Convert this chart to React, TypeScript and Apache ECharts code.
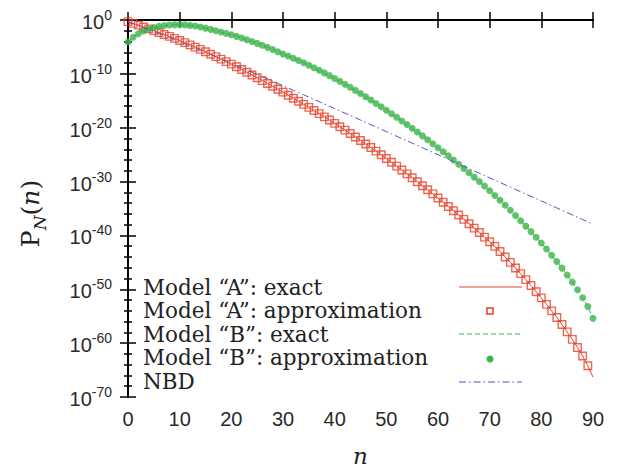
import React, { useEffect, useRef } from "react";
import * as echarts from "echarts";

// n = 0 .. 90
const nValues: number[] = Array.from({ length: 91 }, (_, i) => i);

// log10 P_N(n)
const modelA_log10: number[] = [
  -0.3, -0.63, -0.96, -1.3, -1.64, -1.98, -2.33, -2.68, -3.04, -3.41,
  -3.8, -4.2, -4.61, -5.03, -5.46, -5.9, -6.35, -6.8, -7.26, -7.73,
  -8.2, -8.69, -9.19, -9.7, -10.21, -10.73, -11.25, -11.78, -12.31, -12.85,
  -13.4, -13.96, -14.52, -15.09, -15.66, -16.23, -16.81, -17.39, -17.98, -18.58,
  -19.2, -19.82, -20.45, -21.08, -21.72, -22.37, -23.02, -23.68, -24.35, -25.03,
  -25.72, -26.42, -27.13, -27.85, -28.57, -29.3, -30.04, -30.78, -31.53, -32.29,
  -33.06, -33.84, -34.62, -35.41, -36.21, -37.01, -37.82, -38.64, -39.47, -40.31,
  -41.16, -42.04, -42.98, -44.0, -45.0, -46.05, -47.1, -48.2, -49.3, -50.45,
  -51.6, -52.8, -54.0, -55.25, -56.55, -57.9, -59.3, -60.8, -62.4, -64.2,
  -66.3,
];

// approximation points of model A are shown for n = 0 .. 89
const modelA_approx_count = 90;

const modelB_log10: number[] = [
  -4.1, -3.2, -2.55, -2.05, -1.68, -1.4, -1.18, -1.03, -0.93, -0.88,
  -0.87, -0.91, -1.0, -1.13, -1.3, -1.51, -1.74, -1.98, -2.23, -2.49,
  -2.75, -3.04, -3.34, -3.66, -3.99, -4.34, -4.7, -5.08, -5.47, -5.88,
  -6.3, -6.69, -7.09, -7.51, -7.94, -8.39, -8.85, -9.33, -9.82, -10.33,
  -10.85, -11.39, -11.94, -12.5, -13.07, -13.66, -14.26, -14.87, -15.49, -16.12,
  -16.76, -17.41, -18.07, -18.74, -19.42, -20.11, -20.81, -21.52, -22.24, -22.97,
  -23.71, -24.46, -25.22, -25.99, -26.77, -27.56, -28.36, -29.17, -29.99, -30.83,
  -31.69, -32.57, -33.47, -34.39, -35.33, -36.29, -37.27, -38.27, -39.29, -40.34,
  -41.42, -42.53, -43.67, -44.85, -46.07, -47.34, -48.67, -50.07, -51.57, -53.2,
  -55.4,
];

const nbd_log10: number[] = [
  -0.4, -0.73, -1.08, -1.43, -1.78, -2.14, -2.51, -2.88, -3.26, -3.64,
  -4.02, -4.41, -4.8, -5.2, -5.59, -5.99, -6.4, -6.8, -7.21, -7.62,
  -8.03, -8.44, -8.85, -9.27, -9.68, -10.1, -10.52, -10.94, -11.36, -11.78,
  -12.2, -12.62, -13.04, -13.47, -13.89, -14.32, -14.74, -15.17, -15.59, -16.02,
  -16.44, -16.87, -17.3, -17.72, -18.15, -18.58, -19.01, -19.43, -19.86, -20.29,
  -20.72, -21.15, -21.58, -22.01, -22.43, -22.86, -23.29, -23.72, -24.15, -24.58,
  -25.01, -25.44, -25.87, -26.3, -26.73, -27.16, -27.59, -28.02, -28.45, -28.88,
  -29.31, -29.74, -30.17, -30.6, -31.03, -31.46, -31.89, -32.32, -32.75, -33.18,
  -33.61, -34.04, -34.47, -34.9, -35.33, -35.76, -36.19, -36.62, -37.05, -37.48,
  -37.91,
];

const seriesNames: string[] = [
  "Model “A”: exact",
  "Model “A”: approximation",
  "Model “B”: exact",
  "Model “B”: approximation",
  "NBD",
];

const RED = "#e8412a";
const GREEN = "#3cb44b";
const BLUE = "#5a4fbd";
const SERIF = '"DejaVu Serif", serif';
const SANS = '"Liberation Sans", Arial, sans-serif';

const pairs = (vals: number[], count: number = vals.length) =>
  nValues.slice(0, count).map((n, i) => [n, vals[i]]);

export default function App() {
  const ref = useRef<HTMLDivElement>(null);
  useEffect(() => {
    document.body.style.margin = "0";
    const chart = echarts.init(ref.current!, undefined, { renderer: "svg" });

    const rowY = [287, 310.5, 334, 357.5, 381];
    const textX = 143;
    const sx1 = 459;
    const sx2 = 522;
    const sxc = 490;

    const legendChildren: any[] = [];
    seriesNames.forEach((name, i) => {
      legendChildren.push({
        type: "text",
        x: textX,
        y: rowY[i],
        style: {
          text: name,
          fontFamily: SERIF,
          fontSize: 21.5,
          fill: "#222",
          verticalAlign: "middle",
        },
      });
    });
    legendChildren.push(
      { type: "line", shape: { x1: sx1, y1: rowY[0], x2: sx2, y2: rowY[0] }, style: { stroke: RED, lineWidth: 1 } },
      { type: "rect", shape: { x: sxc - 3, y: rowY[1] - 2.5, width: 6, height: 6 }, style: { fill: "transparent", stroke: RED, lineWidth: 1.5 } },
      { type: "line", shape: { x1: sx1, y1: rowY[2], x2: sx2, y2: rowY[2] }, style: { stroke: GREEN, lineWidth: 1, lineDash: [5, 3] } },
      { type: "circle", shape: { cx: sxc, cy: rowY[3] + 1.5, r: 3.5 }, style: { fill: GREEN } },
      { type: "line", shape: { x1: sx1, y1: rowY[4] + 1, x2: sx2, y2: rowY[4] + 1 }, style: { stroke: BLUE, lineWidth: 1, lineDash: [7, 3, 1.5, 3] } }
    );

    const tickStyle = { color: "#000", width: 1.5 };
    const axisLine = { show: true, lineStyle: { color: "#000", width: 2 } };

    chart.setOption({
      animation: false,
      backgroundColor: "#fff",
      grid: { left: 128, right: 28, top: 20, bottom: 69, containLabel: false },
      xAxis: [
        {
          type: "value",
          position: "bottom",
          min: 0,
          max: 90,
          interval: 10,
          axisLine,
          axisTick: { show: true, inside: true, length: 8, lineStyle: tickStyle },
          splitLine: { show: false },
          axisLabel: { fontFamily: SANS, fontSize: 20, color: "#2a2a2a", margin: 12 },
          name: "n",
          nameLocation: "middle",
          nameGap: 47,
          nameTextStyle: { fontFamily: SERIF, fontStyle: "italic", fontSize: 23, color: "#222" },
        },
        {
          type: "value",
          position: "top",
          min: 0,
          max: 90,
          interval: 10,
          axisLine,
          axisTick: { show: true, inside: true, length: 8, lineStyle: tickStyle },
          splitLine: { show: false },
          axisLabel: { show: false },
        },
      ],
      yAxis: [
        {
          type: "value",
          position: "left",
          min: -70,
          max: 0,
          interval: 10,
          axisLine,
          axisTick: { show: true, inside: true, length: 8, lineStyle: tickStyle },
          minorTick: { show: true, splitNumber: 5, length: 4, lineStyle: tickStyle },
          splitLine: { show: false },
          minorSplitLine: { show: false },
          axisLabel: {
            margin: 16,
            formatter: (v: number) => `{b|10}{e|${v}}`,
            rich: {
              b: { fontFamily: SANS, fontSize: 20, lineHeight: 24, verticalAlign: "bottom", color: "#2a2a2a" },
              e: { fontFamily: SANS, fontSize: 14, lineHeight: 14, verticalAlign: "top", color: "#2a2a2a" },
            },
          },
          name: "{a|P}{s|N}{a|(}{i|n}{a|)}",
          nameLocation: "middle",
          nameRotate: 90,
          nameGap: 80,
          nameTextStyle: {
            padding: [0, 10, 0, 0],
            rich: {
              a: { fontFamily: SERIF, fontSize: 25, lineHeight: 30, verticalAlign: "top", color: "#222" },
              i: { fontFamily: SERIF, fontStyle: "italic", fontSize: 25, lineHeight: 30, verticalAlign: "top", color: "#222" },
              s: { fontFamily: SERIF, fontStyle: "italic", fontSize: 17, lineHeight: 12, verticalAlign: "bottom", color: "#222" },
            },
          },
        },
        {
          type: "value",
          position: "right",
          min: -70,
          max: 0,
          interval: 10,
          axisLine,
          axisTick: { show: true, inside: true, length: 8, lineStyle: tickStyle },
          minorTick: { show: true, splitNumber: 5, length: 4, lineStyle: tickStyle },
          splitLine: { show: false },
          minorSplitLine: { show: false },
          axisLabel: { show: false },
        },
      ],
      series: [
        {
          name: seriesNames[0],
          type: "line",
          data: pairs(modelA_log10),
          showSymbol: false,
          lineStyle: { color: RED, width: 1 },
          z: 2,
        },
        {
          name: seriesNames[1],
          type: "scatter",
          data: pairs(modelA_log10, modelA_approx_count),
          symbol: "rect",
          symbolSize: 7.5,
          itemStyle: { color: "transparent", borderColor: RED, borderWidth: 1.4 },
          z: 3,
        },
        {
          name: seriesNames[2],
          type: "line",
          data: pairs(modelB_log10),
          showSymbol: false,
          lineStyle: { color: GREEN, width: 1, type: [5, 3] },
          z: 2,
        },
        {
          name: seriesNames[3],
          type: "scatter",
          data: pairs(modelB_log10),
          symbol: "circle",
          symbolSize: 7,
          itemStyle: { color: GREEN },
          z: 3,
        },
        {
          name: seriesNames[4],
          type: "line",
          data: pairs(nbd_log10),
          showSymbol: false,
          lineStyle: { color: BLUE, width: 1, type: [7, 3, 1.5, 3] },
          z: 4,
        },
      ],
      graphic: [{ type: "group", children: legendChildren }],
    });
    return () => chart.dispose();
  }, []);
  return <div ref={ref} style={{ width: 621, height: 472 }} />;
}
